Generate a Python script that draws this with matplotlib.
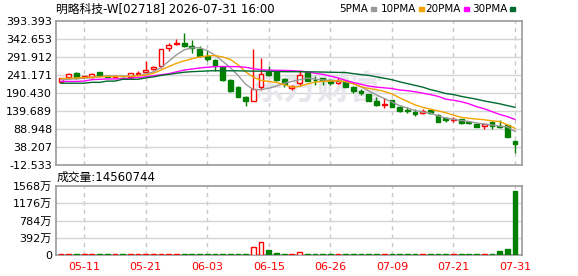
import matplotlib
matplotlib.use("Agg")
import matplotlib.pyplot as plt
from matplotlib.patches import Rectangle

plt.rcParams['font.family'] = ['DejaVu Sans', 'Noto Sans CJK SC']

# --- data ---
dates = ['05-06', '05-07', '05-08', '05-11', '05-12', '05-13', '05-14', '05-15',
         '05-18', '05-19', '05-20', '05-21', '05-22', '05-26', '05-27', '05-28',
         '05-29', '06-01', '06-02', '06-03', '06-04', '06-05', '06-08', '06-09',
         '06-10', '06-11', '06-12', '06-15', '06-16', '06-17', '06-18', '06-22',
         '06-23', '06-24', '06-25', '06-26', '06-29', '06-30', '07-02', '07-03',
         '07-06', '07-07', '07-08', '07-09', '07-10', '07-13', '07-14', '07-15',
         '07-16', '07-17', '07-20', '07-21', '07-22', '07-23', '07-24', '07-27',
         '07-28', '07-29', '07-30', '07-31']
date_labels = ['05-11', '05-21', '06-03', '06-15', '06-26', '07-09', '07-21', '07-31']

opens = [221, 235, 247, 235, 236, 249, 239, 235, 233, 236, 244, 250, 257, 267, 317,
         328, 332, 322, 314, 295, 284, 265, 228, 208, 179, 169, 207, 249, 250, 230,
         205, 218, 249, 228, 232, 226, 218, 223, 207, 197, 188, 168, 158, 170, 152,
         143, 138, 133, 142, 128, 120, 115, 116, 109, 104, 96, 108, 97, 100, 55]
highs = [234, 247, 250, 239, 246, 251, 242, 241, 235, 248, 253, 281, 266, 315, 331,
         342, 360, 340, 323, 313, 286, 266, 230, 210, 181, 315, 288, 266, 255, 232,
         213, 255, 251, 239, 234, 229, 234, 225, 209, 201, 189, 178, 175, 171, 153,
         150, 144, 146, 143, 130, 123, 122, 118, 111, 105, 104, 112, 114, 101, 56]
lows = [219, 233, 229, 233, 234, 238, 233, 232, 230, 233, 242, 249, 255, 262, 309,
        325, 319, 303, 291, 281, 253, 225, 192, 178, 154, 167, 198, 238, 225, 207,
        198, 209, 224, 213, 214, 213, 216, 207, 191, 186, 167, 155, 147, 150, 137,
        133, 126, 130, 132, 109, 110, 108, 104, 104, 94, 88, 88, 91, 66, 22]
closes = [232, 245, 233, 237, 244, 239, 236, 237, 232, 246, 248, 254, 264, 314, 327,
          331, 323, 316, 295, 285, 266, 227, 196, 180, 169, 201, 244, 242, 227, 216,
          209, 241, 225, 226, 226, 218, 224, 208, 197, 190, 169, 157, 160, 152, 139,
          141, 132, 141, 133, 110, 115, 117, 106, 106, 95, 103, 96, 95, 67, 46]

ma5 = [228, 229, 231, 232, 234, 237, 238, 238, 238, 238, 240, 244, 250, 262, 280,
       298, 312, 318, 318, 310, 297, 280, 262, 240, 215, 200, 200, 204, 210, 218,
       223, 228, 232, 230, 227, 226, 224, 222, 217, 208, 196, 185, 175, 165, 155,
       148, 141, 137, 134, 126, 120, 116, 113, 110, 106, 103, 100, 97, 95, 82]
ma10 = [231, 232, 233, 234, 235, 236, 237, 237, 237, 237, 239, 241, 246, 255, 265,
        274, 281, 287, 292, 295, 296, 292, 285, 270, 250, 235, 226, 223, 220, 214,
        207, 209, 216, 221, 223, 224, 225, 223, 216, 208, 203, 200, 195, 188, 177,
        167, 157, 150, 145, 140, 135, 128, 122, 119, 117, 115, 112, 110, 101, 91]
ma20 = [223, 223, 223, 224, 228, 229, 230, 230, 231, 232, 234, 236, 239, 242, 245,
        250, 255, 258, 261, 263, 265, 265, 265, 264.5, 263, 259, 256, 255, 254.5, 254,
        253.5, 252, 250, 246, 243, 238, 233, 226, 220, 215, 210, 207, 205, 203, 199,
        197, 194, 190, 186, 181, 173, 170, 166, 160, 152, 146, 138, 130, 124, 116]
ma30 = [218, 218, 218, 218, 220.5, 220.5, 224, 224, 229, 229, 229, 233, 236, 240, 243,
        246, 249, 250.5, 251.5, 252.5, 253.3, 253, 253, 253, 252.5, 252, 252, 251.5, 251, 250.5,
        250.5, 250.5, 250, 250, 249.5, 249, 248.5, 248, 245, 242, 240, 236, 232, 228, 222,
        217, 212, 207, 200, 195, 189, 186, 181, 177, 173, 168, 164, 160, 155, 150]

# volume in 万 shares
volume = [18, 22, 25, 20, 24, 21, 19, 23, 17, 26, 22, 30, 24, 28, 25,
          27, 26, 24, 22, 21, 23, 25, 26, 22, 24, 189, 289, 114, 45, 25,
          20, 60, 22, 24, 21, 23, 20, 25, 22, 24, 21, 23, 22, 20, 24,
          21, 23, 22, 20, 25, 22, 21, 24, 23, 20, 22, 26, 91, 136, 1456.0744]

price_ticks = [-12.533, 38.207, 88.948, 139.689, 190.430, 241.171, 291.912, 342.653, 393.393]
vol_ticks = [0, 392, 784, 1176, 1568]

RED = '#ff0000'
GREEN = '#008000'
GRID = '#d4d4d4'

fig = plt.figure(figsize=(5.78, 2.76), dpi=100)
W, H = 578, 276
left, right = 55.5, 522.3
ax = fig.add_axes([left / W, 1 - 165 / H, (right - left) / W, 144 / H])
axv = fig.add_axes([left / W, 1 - 255 / H, (right - left) / W, 69 / H], sharex=ax)

n = len(closes)
xs = list(range(n))
tick_pos = [dates.index(d) for d in date_labels]

# candles
for i in xs:
    o, h, l, c = opens[i], highs[i], lows[i], closes[i]
    up = c >= o
    col = RED if up else GREEN
    ax.vlines(i, l, h, color=col, lw=1, zorder=2)
    body = max(abs(c - o), 0.8)
    ax.bar(i, body, bottom=min(o, c), width=0.62,
           facecolor='white' if up else col, edgecolor=col, lw=1, zorder=3)

    axv.bar(i, volume[i], width=0.62, facecolor='white' if up else col,
            edgecolor=col, lw=1, zorder=3)

ax.plot(xs, ma5, color='#999999', lw=1, zorder=4)
ax.plot(xs, ma10, color='#f5a300', lw=1, zorder=4)
ax.plot(xs, ma20, color='#ff00ff', lw=1, zorder=4)
ax.plot(xs, ma30, color='#006b2e', lw=1, zorder=4)

# watermark
ax.text(0.56, 0.52, '东方财富', transform=ax.transAxes, ha='center', va='center',
        fontsize=24, color='#e6e6ec', fontweight='bold', style='italic',
        family=['Noto Sans CJK SC'], zorder=1)

for a in (ax, axv):
    a.set_xlim(-0.72, 59.95)
    for s in a.spines.values():
        s.set_color('#9a9a9a')
        s.set_linewidth(1.2)
    for p in tick_pos:
        a.axvline(p, color='#c8c8c8', lw=1, ls=(0, (3, 3)), zorder=0)
    a.tick_params(length=0, labelsize=8, pad=2.5)

ax.set_ylim(price_ticks[0], price_ticks[-1])
ax.set_yticks(price_ticks)
ax.set_yticklabels(['%.3f' % v for v in price_ticks])
for v in price_ticks[1:-1]:
    ax.axhline(v, color=GRID, lw=1, zorder=0)
ax.tick_params(axis='x', labelbottom=False)

axv.set_ylim(vol_ticks[0], vol_ticks[-1])
axv.set_yticks(vol_ticks)
axv.set_yticklabels(['0'] + ['%d万' % v for v in vol_ticks[1:]])
for v in vol_ticks[1:-1]:
    axv.axhline(v, color=GRID, lw=1, zorder=0)
axv.set_xticks(tick_pos)
axv.set_xticklabels(date_labels, color=RED)
axv.tick_params(axis='x', pad=5)

# title and legend
fig.text(56 / W, 1 - 9 / H, '明略科技-W[02718] 2026-07-31 16:00', fontsize=8.5,
         va='center', ha='left')
legend = [('5PMA', '#999999', 338.7), ('10PMA', '#f5a300', 380.7),
          ('20PMA', '#ff00ff', 425.7), ('30PMA', '#006b2e', 472)]
for name, col, x0 in legend:
    t = fig.text(x0 / W, 1 - 9 / H, name, fontsize=7.5, va='center', ha='left')
    fig.canvas.draw()
    bb = t.get_window_extent()
    fig.patches.append(Rectangle(((bb.x1 + 3) / W, 1 - 10.5 / H), 5 / W, 3 / H,
                                 transform=fig.transFigure, color=col))

fig.text(57 / W, 1 - 177 / H, '成交量:%d' % round(volume[-1] * 10000), fontsize=8.5,
         va='center', ha='left')

fig.savefig('out.png', dpi=100)
